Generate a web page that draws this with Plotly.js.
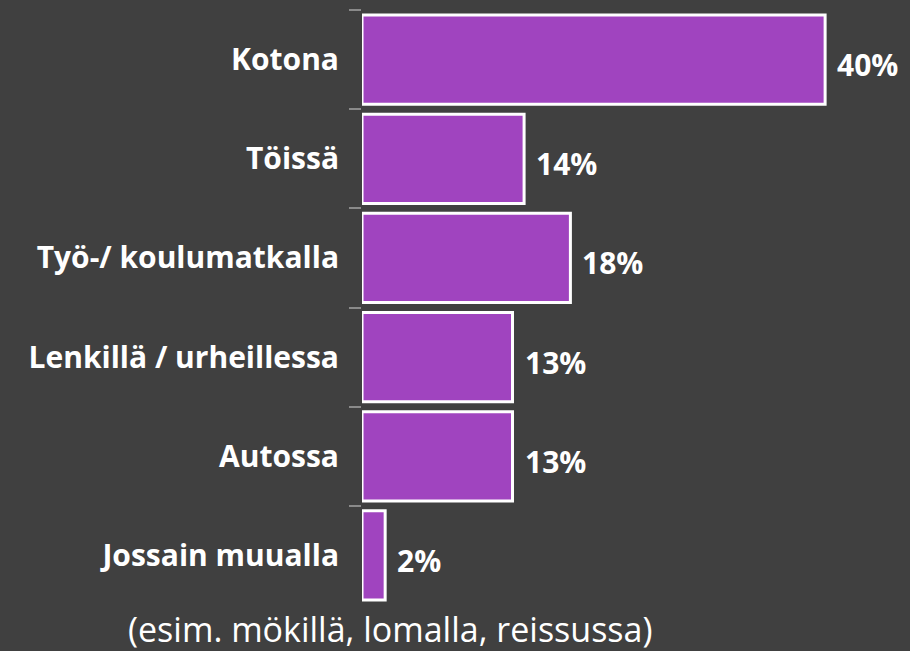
<!DOCTYPE html>
<html>
<head>
<meta charset="utf-8">
<script src="https://cdn.plot.ly/plotly-3.0.1.min.js"></script>
<style>
  html, body { margin: 0; padding: 0; background: #404040; }
  #plot { width: 910px; height: 651px; }
</style>
</head>
<body>
<div id="plot"></div>
<script>
var places = ['Kotona', 'Töissä', 'Työ-/ koulumatkalla', 'Lenkillä / urheillessa', 'Autossa', 'Jossain muualla'];
var shares = [40, 14, 18, 13, 13, 2];
var footnote = '(esim. mökillä, lomalla, reissussa)';

var labelFont = {family: 'Open Sans, sans-serif', size: 30, color: '#ffffff', weight: 'bold'};

var trace = {
    type: 'bar',
    orientation: 'h',
    y: places,
    x: shares,
    marker: {
        color: '#a044bf',
        line: {color: '#ffffff', width: 3}
    },
    hoverinfo: 'none'
};

/* value labels right of each bar */
var notes = [];
for (var i = 0; i < places.length; i++) {
    notes.push({
        x: shares[i], y: places[i],
        xref: 'x', yref: 'y',
        text: shares[i] + '%',
        showarrow: false,
        xanchor: 'left', yanchor: 'middle',
        xshift: 10, yshift: -5,
        font: labelFont
    });
}
// note under the last category
notes.push({
    x: 0.054, y: -0.041, xref: 'paper', yref: 'paper',
    text: footnote, showarrow: false,
    xanchor: 'center', yanchor: 'middle',
    font: {family: 'Open Sans, sans-serif', size: 34, color: '#ffffff'}
});

var layout = {
    width: 910, height: 651,
    paper_bgcolor: '#404040',
    plot_bgcolor: '#404040',
    margin: {l: 362, r: 27, t: 10, b: 46},
    showlegend: false,
    bargap: 0.1,
    xaxis: {
        range: [0, 45],
        visible: false,
        fixedrange: true
    },
    yaxis: {
        autorange: 'reversed',
        showline: false,
        showgrid: false,
        ticks: 'outside',
        tickson: 'boundaries',
        ticklen: 12,
        tickwidth: 2,
        tickcolor: '#8a8a8a',
        ticklabelstandoff: 22,
        tickfont: labelFont,
        fixedrange: true
    },
    annotations: notes
};

Plotly.newPlot('plot', [trace], layout, {displayModeBar: false, staticPlot: true});
</script>
</body>
</html>
